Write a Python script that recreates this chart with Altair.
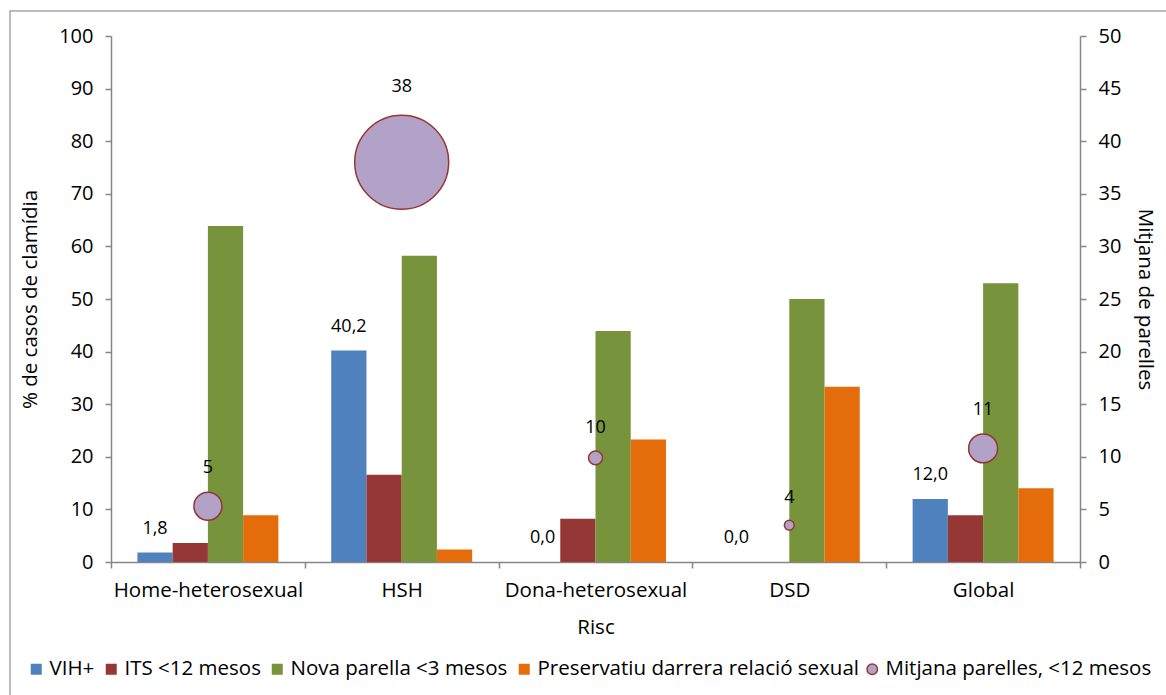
import math
import altair as alt
import pandas as pd

# Risk groups and the four percentage series (left axis, %)
categories = ["Home-heterosexual", "HSH", "Dona-heterosexual", "DSD", "Global"]
series = ["VIH+", "ITS <12 mesos", "Nova parella <3 mesos",
          "Preservatiu darrera relació sexual"]
vih = [1.8, 40.2, 0.0, 0.0, 12.0]
its = [3.6, 16.6, 8.2, 0.0, 8.9]
nova_parella = [63.9, 58.2, 43.9, 50.0, 53.0]
preservatiu = [8.9, 2.4, 23.3, 33.3, 14.0]

# Mean number of partners in the last 12 months (right axis) and bubble size
bubble_series = "Mitjana parelles, <12 mesos"
mitjana_parelles = [5.3, 38.0, 9.9, 3.5, 10.8]
bubble_size = [8.9, 100.0, 2.2, 1.1, 9.5]

bar_colors = ["#4f81bd", "#953735", "#77933c", "#e46c0a"]
bubble_fill = "#b3a2c7"
bubble_stroke = "#953735"
axis_color = "#868686"
FONT = "Open Sans"

rows = []
for i, cat in enumerate(categories):
    for name, vals in zip(series, [vih, its, nova_parella, preservatiu]):
        rows.append({"Risc": cat, "serie": name, "pct": vals[i]})
bars_df = pd.DataFrame(rows)

bubbles_df = pd.DataFrame({
    "Risc": categories,
    "mitjana": mitjana_parelles,
    "mida": bubble_size,
    "serie": [bubble_series] * len(categories),
})

W, H = 969, 526
RIGHT_MAX = 50
MAX_AREA = math.pi * 53 ** 2

x_enc = alt.X(
    "Risc:N",
    sort=categories,
    scale=alt.Scale(paddingInner=0, paddingOuter=0),
    axis=alt.Axis(
        title="Risc", labelAngle=0, tickBand="extent", labelFontSize=20.5,
        labelLimit=0, labelPadding=12, titleFontSize=20.5,
        titleFontWeight="normal", titlePadding=17, domainColor=axis_color,
        tickColor=axis_color, tickSize=6, domainWidth=1.5, tickWidth=1.5,
        labelColor="#000000", titleColor="#000000",
    ),
)
xoff_enc = alt.XOffset(
    "serie:N",
    scale=alt.Scale(domain=series, paddingInner=0, paddingOuter=0.75),
)
y_left = alt.Y(
    "pct:Q",
    scale=alt.Scale(domain=[0, 100]),
    axis=alt.Axis(
        title="% de casos de clamídia", values=list(range(0, 101, 10)),
        grid=False, labelFontSize=20, labelPadding=12, titleFontSize=20.5,
        titleFontWeight="normal", titlePadding=18, domainColor=axis_color,
        tickColor=axis_color, tickSize=6, domainWidth=1.5, tickWidth=1.5,
        labelColor="#000000", titleColor="#000000",
    ),
)
right_scale = alt.Scale(domain=[0, RIGHT_MAX])
right_axis = alt.Axis(
    title="Mitjana de parelles", orient="right",
    values=list(range(0, RIGHT_MAX + 1, 5)), grid=False, labelFontSize=20,
    labelPadding=12, titleFontSize=20.5, titleFontWeight="normal",
    titlePadding=14, domainColor=axis_color, tickColor=axis_color,
    tickSize=6, domainWidth=1.5, tickWidth=1.5, labelColor="#000000",
    titleColor="#000000",
)

legend_common = dict(
    title=None, orient="none", direction="horizontal", legendY=623,
    labelFontSize=20.5, labelOffset=3, labelColor="#000000", labelLimit=0,
    padding=0, gridAlign="none", columnPadding=6,
)

base_bars = alt.Chart(bars_df)

bars = base_bars.mark_bar().encode(
    x=x_enc,
    xOffset=xoff_enc,
    y=y_left,
    color=alt.Color(
        "serie:N",
        scale=alt.Scale(domain=series, range=bar_colors),
        legend=alt.Legend(
            legendX=-85, symbolType="square", symbolSize=121,
            symbolStrokeWidth=0, **legend_common,
        ),
    ),
)

vih_labels = base_bars.transform_filter(
    alt.datum.serie == "VIH+"
).transform_calculate(
    etiqueta="replace(format(datum.pct, '.1f'), '.', ',')"
).mark_text(fontSize=18, dy=-24, baseline="middle", color="#000000").encode(
    x=x_enc,
    xOffset=xoff_enc,
    y=y_left,
    text="etiqueta:N",
)

base_bub = alt.Chart(bubbles_df)

bubbles = base_bub.mark_circle(
    opacity=1, stroke=bubble_stroke, strokeWidth=1.5
).encode(
    x=x_enc,
    y=alt.Y("mitjana:Q", scale=right_scale, axis=right_axis),
    size=alt.Size(
        "mida:Q", scale=alt.Scale(domain=[0, 100], range=[0, MAX_AREA]),
        legend=None,
    ),
    fill=alt.Fill(
        "serie:N",
        scale=alt.Scale(domain=[bubble_series], range=[bubble_fill]),
        legend=alt.Legend(
            legendX=751, symbolType="circle", symbolSize=110,
            symbolStrokeColor=bubble_stroke, symbolStrokeWidth=1.5,
            **legend_common,
        ),
    ),
)

# Value label sits just above each bubble: bubble radius (px) plus a gap,
# converted back into right-axis units.
bubble_labels = base_bub.transform_calculate(
    radi="sqrt(datum.mida / 100 * %f / PI)" % MAX_AREA,
    pos="datum.mitjana + (datum.radi + 22) * %d / %d" % (RIGHT_MAX, H),
    etiqueta="format(datum.mitjana, '.0f')",
).mark_text(fontSize=18, baseline="middle", color="#000000").encode(
    x=x_enc,
    y=alt.Y("pos:Q", scale=right_scale, axis=right_axis),
    text="etiqueta:N",
)

frame = alt.Chart(pd.DataFrame({"k": [0]})).mark_rect(
    fill="transparent", stroke="#a6a6a6", strokeWidth=1.5
).encode(
    x=alt.value(-101), x2=alt.value(1065),
    y=alt.value(-25), y2=alt.value(670),
)

chart = alt.layer(
    frame,
    alt.layer(bars, vih_labels),
    alt.layer(bubbles, bubble_labels),
).resolve_scale(
    y="independent"
).properties(
    width=W, height=H,
    padding={"left": 111, "top": 36, "right": 86, "bottom": 133},
    autosize=alt.AutoSizeParams(type="none"),
    background="#ffffff",
).configure(
    font=FONT,
).configure_view(
    stroke=None,
)

chart.save("out.html", embed_options={"renderer": "svg", "actions": False})
